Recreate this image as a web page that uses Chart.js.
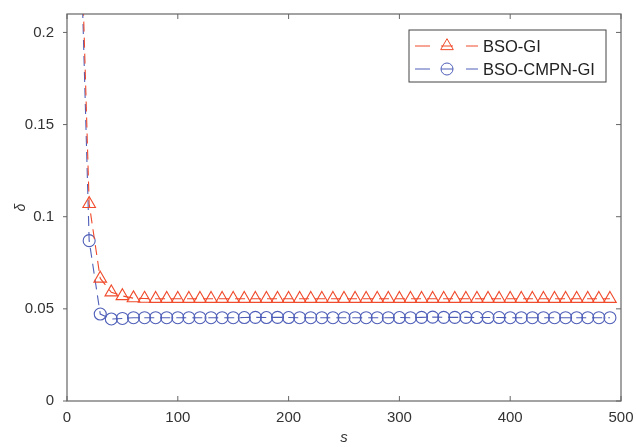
<!DOCTYPE html>
<html><head><meta charset="utf-8">
<script src="https://cdn.jsdelivr.net/npm/chart.js@4.4.0/dist/chart.umd.min.js"></script>
<style>html,body{margin:0;padding:0;background:#fff}#wrap{width:636px;height:447px}</style>
</head><body><div id="wrap"><canvas id="c"></canvas></div>
<script>
const sValues = [10,20,30,40,50,60,70,80,90,100,110,120,130,140,150,160,170,180,190,200,
  210,220,230,240,250,260,270,280,290,300,310,320,330,340,350,360,370,380,390,400,
  410,420,430,440,450,460,470,480,490];
const bsoGi = [0.31,0.107,0.0665,0.059,0.057,0.0558,0.0556,0.0555,0.0555,0.0555,
  0.0555,0.0555,0.0555,0.0555,0.0555,0.0555,0.0555,0.0555,0.0555,0.0555,
  0.0555,0.0555,0.0555,0.0555,0.0555,0.0555,0.0555,0.0555,0.0555,0.0555,
  0.0555,0.0555,0.0555,0.0555,0.0555,0.0555,0.0555,0.0555,0.0555,0.0555,
  0.0555,0.0555,0.0555,0.0555,0.0555,0.0555,0.0555,0.0555,0.0555];
const bsoCmpnGi = [0.30,0.087,0.0472,0.0445,0.0448,0.0452,0.0452,0.0452,0.0452,0.0452,
  0.0452,0.0452,0.0452,0.0452,0.0452,0.0453,0.0454,0.0453,0.0454,0.0453,
  0.0452,0.0452,0.0452,0.0452,0.0452,0.0452,0.0452,0.0452,0.0452,0.0453,
  0.0452,0.0454,0.0455,0.0454,0.0454,0.0454,0.0453,0.0453,0.0453,0.0452,
  0.0452,0.0452,0.0452,0.0452,0.0452,0.0452,0.0452,0.0452,0.0452];
const xTicks = [0,100,200,300,400,500];
const yTicks = [0,0.05,0.1,0.15,0.2];
const seriesNames = ['BSO-GI','BSO-CMPN-GI'];

const red = '#f04b2c', blue = '#4f5fb8';
const txt = '#333';
const axisCol = '#666';
const fam = '"Liberation Sans", Arial, sans-serif';

const frame = {
  id: 'frame',
  afterDraw(chart) {
    const {ctx, chartArea: a, scales: {x, y}} = chart;
    ctx.save();
    ctx.strokeStyle = axisCol;
    ctx.lineWidth = 1.2;
    ctx.strokeRect(a.left, a.top, a.right - a.left, a.bottom - a.top);
    ctx.lineWidth = 1;
    ctx.beginPath();
    xTicks.forEach(v => {
      const px = x.getPixelForValue(v);
      ctx.moveTo(px, a.bottom); ctx.lineTo(px, a.bottom - 5);
      ctx.moveTo(px, a.top); ctx.lineTo(px, a.top + 5);
    });
    yTicks.forEach(v => {
      const py = y.getPixelForValue(v);
      ctx.moveTo(a.left, py); ctx.lineTo(a.left - 4, py);
      ctx.moveTo(a.right, py); ctx.lineTo(a.right - 5, py);
    });
    ctx.stroke();

    // legend
    const bx = a.right - 212, by = a.top + 16, bw = 197, bh = 52;
    ctx.fillStyle = '#fff';
    ctx.fillRect(bx, by, bw, bh);
    ctx.strokeStyle = '#444';
    ctx.strokeRect(bx, by, bw, bh);
    chart.data.datasets.forEach((ds, i) => {
      const cy = by + 16 + i * 23;
      ctx.strokeStyle = ds.borderColor;
      ctx.lineWidth = 1;
      ctx.beginPath();
      ctx.moveTo(bx + 6, cy); ctx.lineTo(bx + 21, cy);
      ctx.moveTo(bx + 32, cy); ctx.lineTo(bx + 44, cy);
      ctx.moveTo(bx + 57, cy); ctx.lineTo(bx + 69, cy);
      ctx.stroke();
      ctx.fillStyle = 'rgba(0,0,0,0)';
      Chart.helpers.drawPoint(ctx, {pointStyle: ds.pointStyle, radius: ds.pointRadius, borderWidth: 1}, bx + 38, cy);
      ctx.fillStyle = '#222';
      ctx.font = '16.5px ' + fam;
      ctx.textBaseline = 'middle';
      ctx.textAlign = 'left';
      ctx.fillText(ds.label, bx + 74, cy + 1);
    });
    ctx.restore();
  }
};

new Chart(document.getElementById('c'), {
  type: 'line',
  data: {
    datasets: [
      {
        label: seriesNames[0],
        data: sValues.map((s, i) => ({x: s, y: bsoGi[i]})),
        borderColor: red, backgroundColor: 'transparent',
        borderWidth: 1.1, borderDash: [10, 6],
        pointStyle: 'triangle', pointRadius: 7.3,
        pointBorderColor: red, pointBackgroundColor: 'transparent', pointBorderWidth: 1.1
      },
      {
        label: seriesNames[1],
        data: sValues.map((s, i) => ({x: s, y: bsoCmpnGi[i]})),
        borderColor: blue, backgroundColor: 'transparent',
        borderWidth: 1.1, borderDash: [10, 6],
        pointStyle: 'circle', pointRadius: 6,
        pointBorderColor: blue, pointBackgroundColor: 'transparent', pointBorderWidth: 1.1
      }
    ]
  },
  options: {
    responsive: true,
    maintainAspectRatio: false,
    animation: false,
    layout: {padding: {top: 11, right: 15, left: 0, bottom: 0}},
    plugins: {legend: {display: false}, tooltip: {enabled: false}},
    scales: {
      x: {
        type: 'linear', min: 0, max: 500,
        afterBuildTicks: sc => { sc.ticks = xTicks.map(v => ({value: v})); },
        afterFit: sc => { sc.height = 46; },
        grid: {display: false}, border: {display: false},
        ticks: {color: txt, font: {size: 15, family: fam}, padding: 0, maxRotation: 0},
        title: {display: true, text: 's', color: txt, padding: {top: 0, bottom: 0},
          font: {size: 15, style: 'italic', family: fam}}
      },
      y: {
        min: 0, max: 0.21,
        afterBuildTicks: sc => { sc.ticks = yTicks.map(v => ({value: v})); },
        afterFit: sc => { sc.width = 67; },
        grid: {display: false}, border: {display: false},
        ticks: {color: txt, font: {size: 15, family: fam}, padding: 5,
          callback: v => String(v)},
        title: {display: true, text: 'δ', color: txt, padding: {top: 13, bottom: 0},
          font: {size: 14, style: 'italic', family: fam}}
      }
    }
  },
  plugins: [frame]
});
</script>
</body></html>
